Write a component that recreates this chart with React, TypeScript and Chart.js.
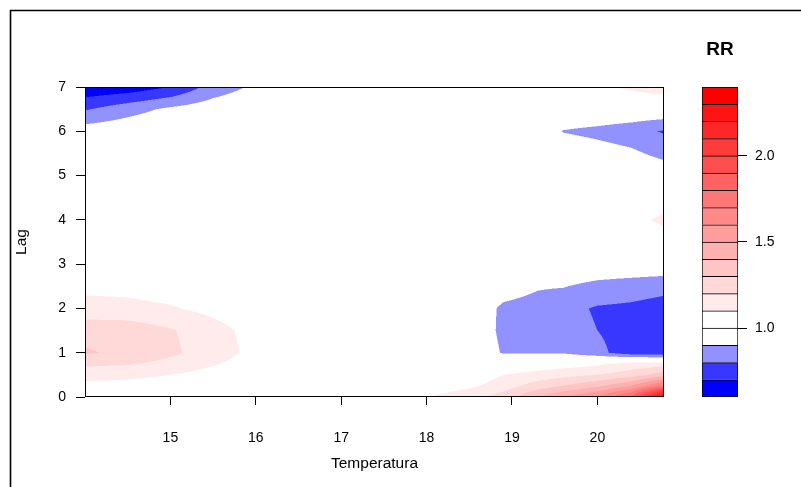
import React, { useEffect, useRef } from 'react';
import { Chart, registerables } from 'chart.js';

Chart.register(...registerables);

// Temperature grid (x) and lag grid (y) of the predicted RR surface
const temperatures = [14.0, 14.5, 15.0, 15.5, 16.0, 16.5, 17.0, 17.5, 18.0, 18.5, 18.9, 19.3, 19.6, 20.0, 20.4, 20.78];
const lags = [0, 0.25, 0.5, 0.75, 1, 1.5, 2, 2.5, 3, 4, 5, 5.5, 6, 6.5, 7];

// RR values: one row per lag, one column per temperature
const rr = [
  [1.02, 1.01, 1.00, 1.00, 1.00, 1.00, 1.00, 1.00, 1.095, 1.16, 1.25, 1.40, 1.50, 1.62, 1.85, 2.38],
  [1.07, 1.06, 1.04, 1.02, 1.01, 1.00, 1.00, 1.00, 1.04, 1.08, 1.15, 1.25, 1.30, 1.38, 1.50, 1.75],
  [1.14, 1.13, 1.10, 1.06, 1.03, 1.00, 1.00, 1.00, 1.01, 1.03, 1.10, 1.14, 1.17, 1.20, 1.25, 1.35],
  [1.22, 1.21, 1.17, 1.11, 1.05, 1.01, 1.00, 1.00, 1.00, 1.00, 1.00, 1.03, 1.05, 1.08, 1.14, 1.15],
  [1.31, 1.28, 1.22, 1.15, 1.07, 1.01, 1.00, 1.00, 1.00, 0.99, 0.89, 0.89, 0.89, 0.83, 0.74, 0.72],
  [1.27, 1.26, 1.21, 1.14, 1.06, 1.01, 1.00, 1.00, 1.00, 0.985, 0.875, 0.86, 0.84, 0.80, 0.75, 0.74],
  [1.13, 1.13, 1.11, 1.07, 1.03, 1.00, 1.00, 1.00, 1.00, 0.98, 0.88, 0.86, 0.83, 0.79, 0.78, 0.76],
  [1.08, 1.07, 1.05, 1.03, 1.01, 1.00, 1.00, 1.00, 1.00, 0.99, 0.95, 0.91, 0.905, 0.87, 0.85, 0.83],
  [1.03, 1.02, 1.01, 1.00, 1.00, 1.00, 1.00, 1.00, 1.00, 1.00, 1.00, 0.99, 0.99, 0.98, 0.98, 0.98],
  [1.00, 1.00, 1.00, 1.00, 1.00, 1.00, 1.00, 1.00, 1.00, 1.00, 1.00, 1.00, 1.00, 1.00, 1.07, 1.12],
  [0.99, 0.99, 1.00, 1.00, 1.00, 1.00, 1.00, 1.00, 1.00, 1.00, 1.00, 1.00, 0.99, 0.99, 0.99, 0.97],
  [0.98, 0.98, 0.99, 1.00, 1.00, 1.00, 1.00, 1.00, 1.00, 1.00, 1.00, 0.99, 0.98, 0.95, 0.92, 0.87],
  [0.95, 0.97, 0.99, 1.00, 1.00, 1.00, 1.00, 1.00, 1.00, 1.00, 1.00, 0.97, 0.895, 0.87, 0.84, 0.79],
  [0.79, 0.86, 0.92, 0.96, 0.99, 1.00, 1.00, 1.00, 1.00, 1.00, 1.00, 1.00, 1.00, 1.00, 0.99, 0.99],
  [0.62, 0.64, 0.70, 0.84, 0.92, 0.97, 1.00, 1.00, 1.00, 1.00, 1.00, 1.02, 1.04, 1.08, 1.12, 1.16],
];

const xTicks = [15, 16, 17, 18, 19, 20];
const yTicks = [0, 1, 2, 3, 4, 5, 6, 7];
const keyLevels = [0.6, 0.7, 0.8, 0.9, 1.0, 1.1, 1.2, 1.3, 1.4, 1.5, 1.6, 1.7, 1.8, 1.9, 2.0, 2.1, 2.2, 2.3, 2.4];
const keyTicks = [1.0, 1.5, 2.0];
const bandColors = [
  '#0000FF', '#3737FF', '#9191FF', '#FFFFFF', '#FFFFFF',
  '#FFEBEB', '#FFD8D8', '#FFC4C4', '#FFB0B0', '#FF9D9D', '#FF8989', '#FF7676',
  '#FF6262', '#FF4E4E', '#FF3B3B', '#FF2727', '#FF1414', '#FF0000',
];

const FONT = '"Liberation Sans", Arial, Helvetica, sans-serif';

function hexToRgb(h: string): number[] {
  return [parseInt(h.slice(1, 3), 16), parseInt(h.slice(3, 5), 16), parseInt(h.slice(5, 7), 16)];
}
const bandRgb = bandColors.map(hexToRgb);

function findCell(arr: number[], v: number): number {
  for (let i = 0; i < arr.length - 2; i++) {
    if (v <= arr[i + 1]) return i;
  }
  return arr.length - 2;
}

function rrAt(t: number, l: number): number {
  const i = findCell(temperatures, t);
  const j = findCell(lags, l);
  let tx = (t - temperatures[i]) / (temperatures[i + 1] - temperatures[i]);
  let ty = (l - lags[j]) / (lags[j + 1] - lags[j]);
  tx = Math.max(0, Math.min(1, tx));
  ty = Math.max(0, Math.min(1, ty));
  return (
    (1 - tx) * (1 - ty) * rr[j][i] +
    tx * (1 - ty) * rr[j][i + 1] +
    (1 - tx) * ty * rr[j + 1][i] +
    tx * ty * rr[j + 1][i + 1]
  );
}

function bandIndex(v: number): number {
  for (let k = 0; k < keyLevels.length - 1; k++) {
    if (v < keyLevels[k + 1]) return k;
  }
  return keyLevels.length - 2;
}

const contourPlugin = {
  id: 'contourFill',
  beforeDatasetsDraw(chart: any) {
    const { ctx, chartArea: a, scales } = chart;
    const xs = scales.x;
    const ys = scales.y;
    const left = Math.round(a.left);
    const top = Math.round(a.top);
    const w = Math.round(a.right) - left;
    const h = Math.round(a.bottom) - top;
    const off = document.createElement('canvas');
    off.width = w;
    off.height = h;
    const octx = off.getContext('2d')!;
    const img = octx.createImageData(w, h);
    const S = 2;
    for (let py = 0; py < h; py++) {
      for (let px = 0; px < w; px++) {
        let r = 0, g = 0, b = 0;
        for (let sy = 0; sy < S; sy++) {
          for (let sx = 0; sx < S; sx++) {
            const t = xs.getValueForPixel(left + px + (sx + 0.5) / S);
            const l = ys.getValueForPixel(top + py + (sy + 0.5) / S);
            const c = bandRgb[bandIndex(rrAt(t, l))];
            r += c[0]; g += c[1]; b += c[2];
          }
        }
        const o = (py * w + px) * 4;
        img.data[o] = r / (S * S);
        img.data[o + 1] = g / (S * S);
        img.data[o + 2] = b / (S * S);
        img.data[o + 3] = 255;
      }
    }
    octx.putImageData(img, 0, 0);
    ctx.drawImage(off, left, top);
  },
  afterDatasetsDraw(chart: any) {
    const { ctx, chartArea: a } = chart;
    ctx.save();
    ctx.strokeStyle = '#000';
    ctx.lineWidth = 1;
    ctx.strokeRect(Math.round(a.left) + 0.5, Math.round(a.top) + 0.5, Math.round(a.right - a.left) - 1, Math.round(a.bottom - a.top) - 1);
    ctx.restore();
  },
  afterDraw(chart: any) {
    const { ctx } = chart;
    ctx.save();
    ctx.strokeStyle = '#000';
    ctx.lineWidth = 1.6;
    ctx.beginPath();
    ctx.moveTo(10.5, chart.height);
    ctx.lineTo(10.5, 10.5);
    ctx.lineTo(chart.width, 10.5);
    ctx.stroke();
    ctx.restore();
  },
};

const keyTitlePlugin = {
  id: 'keyTitle',
  afterDraw(chart: any) {
    const { ctx, chartArea: a } = chart;
    ctx.save();
    ctx.fillStyle = '#000';
    ctx.font = `bold 19px ${FONT}`;
    ctx.textAlign = 'center';
    ctx.textBaseline = 'middle';
    ctx.fillText('RR', (a.left + a.right) / 2, a.top - 37);
    ctx.restore();
  },
};

export default function App() {
  const mainRef = useRef<HTMLCanvasElement>(null);
  const keyRef = useRef<HTMLCanvasElement>(null);

  useEffect(() => {
    const tickFont = { family: FONT, size: 14 };
    const titleFont = { family: FONT, size: 15.5 };
    const main = new Chart(mainRef.current!, {
      type: 'scatter',
      data: { datasets: [] },
      options: {
        animation: false,
        responsive: false,
        events: [],
        layout: { padding: { top: 87, right: 137, left: 0, bottom: 0 } },
        plugins: { legend: { display: false }, tooltip: { enabled: false } },
        scales: {
          x: {
            type: 'linear',
            position: 'bottom',
            min: 14,
            max: 20.78,
            afterBuildTicks: (s: any) => { s.ticks = xTicks.map((value) => ({ value })); },
            afterFit: (s: any) => { s.height = 90; },
            ticks: { color: '#000', font: tickFont, padding: 25, maxRotation: 0, autoSkip: false },
            grid: { drawOnChartArea: false, tickLength: 8, color: '#000' },
            border: { display: false },
            title: { display: true, text: 'Temperatura', color: '#000', font: titleFont, padding: { top: 0, bottom: 14 } },
          },
          y: {
            type: 'linear',
            position: 'left',
            min: 0,
            max: 7,
            afterBuildTicks: (s: any) => { s.ticks = yTicks.map((value) => ({ value })); },
            afterFit: (s: any) => { s.width = 85; },
            ticks: { color: '#000', font: tickFont, padding: 10, autoSkip: false },
            grid: { drawOnChartArea: false, tickLength: 9, color: '#000' },
            border: { display: false },
            title: { display: true, text: 'Lag', color: '#000', font: titleFont, padding: { top: 12, bottom: 0 } },
          },
        },
      },
      plugins: [contourPlugin],
    } as any);

    const key = new Chart(keyRef.current!, {
      type: 'bar',
      data: {
        labels: ['RR'],
        datasets: bandColors.map((c, i) => ({
          data: [[keyLevels[i], keyLevels[i + 1]]],
          backgroundColor: c,
          borderColor: '#000',
          borderWidth: { top: 1, left: 1, right: 1, bottom: i === 0 ? 1 : 0 },
          borderSkipped: false,
          barPercentage: 1,
          categoryPercentage: 1,
        })),
      },
      options: {
        animation: false,
        responsive: false,
        events: [],
        layout: { padding: { top: 87, left: 22, right: 0, bottom: 90 } },
        plugins: { legend: { display: false }, tooltip: { enabled: false } },
        scales: {
          x: { display: false, stacked: true },
          y: {
            type: 'linear',
            position: 'right',
            min: 0.6,
            max: 2.4,
            stacked: false,
            afterBuildTicks: (s: any) => { s.ticks = keyTicks.map((value) => ({ value })); },
            afterFit: (s: any) => { s.width = 63; },
            ticks: { color: '#000', font: tickFont, padding: 8, callback: (v: any) => Number(v).toFixed(1) },
            grid: { drawOnChartArea: false, tickLength: 9, color: '#000' },
            border: { display: false },
          },
        },
      },
      plugins: [keyTitlePlugin],
    } as any);

    return () => {
      main.destroy();
      key.destroy();
    };
  }, []);

  return (
    <div style={{ position: 'fixed', left: 0, top: 0, width: 801, height: 487, background: '#fff' }}>
      <canvas ref={mainRef} width={801} height={487} style={{ position: 'absolute', left: 0, top: 0 }} />
      <canvas ref={keyRef} width={121} height={487} style={{ position: 'absolute', left: 680, top: 0 }} />
    </div>
  );
}
